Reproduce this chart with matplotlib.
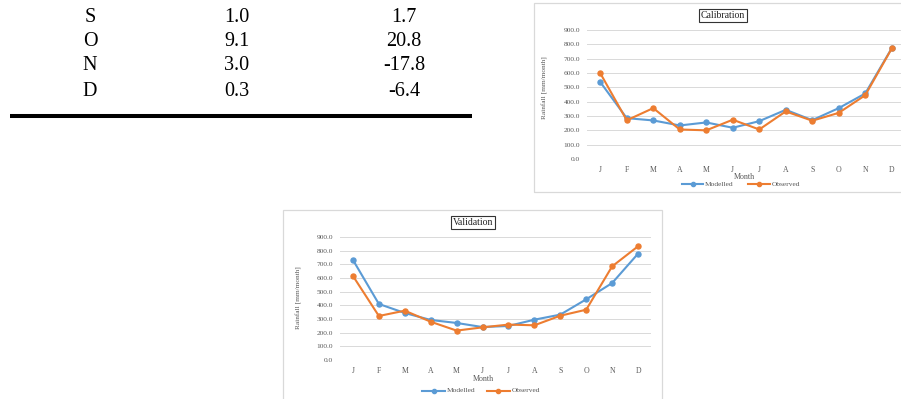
import matplotlib
matplotlib.use("Agg")
import matplotlib.pyplot as plt
from matplotlib.patches import Rectangle
from matplotlib.lines import Line2D

# Table fragment (last rows)
table_months = ["S", "O", "N", "D"]
table_col1 = ["1.0", "9.1", "3.0", "0.3"]
table_col2 = ["1.7", "20.8", "-17.8", "-6.4"]

# Monthly rainfall series
months = ["J", "F", "M", "A", "M", "J", "J", "A", "S", "O", "N", "D"]
cal_modelled = [537, 285, 269, 234, 255, 218, 264, 343, 271, 355, 457, 773]
cal_observed = [599, 270, 355, 206, 200, 274, 206, 332, 267, 322, 445, 771]
val_modelled = [732, 410, 344, 293, 271, 241, 249, 295, 332, 444, 563, 778]
val_observed = [615, 322, 361, 280, 215, 239, 259, 254, 324, 368, 685, 832]
y_ticks = [0, 100, 200, 300, 400, 500, 600, 700, 800, 900]

W, H = 901, 399
BLUE = "#5B9BD5"
ORANGE = "#ED7D31"
GRAY_TXT = "#595959"
SERIF = ["Liberation Serif", "DejaVu Serif"]

fig = plt.figure(figsize=(W / 100, H / 100), dpi=100)
fig.patch.set_facecolor("white")


def fx(x):
    return x / W


def fy(y):
    return 1 - y / H


# ---- table ----
row_y = [17, 42, 66, 91]
for ry, m, a, b in zip(row_y, table_months, table_col1, table_col2):
    fig.text(fx(90), fy(ry), m, ha="center", va="center", fontsize=14.5, family=SERIF)
    fig.text(fx(237), fy(ry), a, ha="center", va="center", fontsize=14.5, family=SERIF)
    fig.text(fx(404), fy(ry), b, ha="center", va="center", fontsize=14.5, family=SERIF)
fig.add_artist(Line2D([fx(10), fx(472)], [fy(115.5), fy(115.5)], color="black",
                      lw=2.9, solid_capstyle="butt"))


def chart(frame, plot, title, title_xy, ylab_xy, month_xy, legend_y, legend_x,
          modelled, observed):
    fl, ft, fr, fb = frame
    fig.add_artist(Rectangle((fx(fl), fy(fb)), fx(fr) - fx(fl), fy(ft) - fy(fb),
                             transform=fig.transFigure, fill=False,
                             edgecolor="#D9D9D9", lw=0.9))
    pl, pt, pr, pb = plot
    ax = fig.add_axes([fx(pl), fy(pb), fx(pr) - fx(pl), fy(pt) - fy(pb)])
    x = list(range(len(months)))
    ax.plot(x, modelled, color=BLUE, lw=1.5, marker="o", ms=3.6, zorder=3)
    ax.plot(x, observed, color=ORANGE, lw=1.5, marker="o", ms=3.6, zorder=4)
    ax.set_xlim(-0.5, len(months) - 0.5)
    ax.set_ylim(0, 900)
    ax.set_yticks(y_ticks)
    ax.set_yticklabels([f"{v:.1f}" for v in y_ticks], fontsize=5.3,
                       color=GRAY_TXT, family=SERIF)
    ax.set_xticks(x)
    ax.set_xticklabels(months, fontsize=5.6, color=GRAY_TXT, family=SERIF)
    ax.tick_params(axis="both", length=0)
    ax.tick_params(axis="y", pad=5)
    ax.tick_params(axis="x", pad=5)
    ax.grid(axis="y", color="#D9D9D9", lw=0.7)
    ax.set_axisbelow(True)
    for s in ax.spines.values():
        s.set_visible(False)
    ax.patch.set_alpha(0)

    tx, ty = title_xy
    fig.text(fx(tx), fy(ty), title, ha="center", va="center", fontsize=7,
             family=SERIF, color="#222222",
             bbox=dict(boxstyle="square,pad=0.2", fc="white", ec="#333333", lw=0.8))
    lx, ly = ylab_xy
    fig.text(fx(lx), fy(ly), "Rainfall [mm/month]", rotation=90, ha="center",
             va="center", fontsize=5.2, color=GRAY_TXT, family=SERIF)
    mx, my = month_xy
    fig.text(fx(mx), fy(my), "Month", ha="center", va="center", fontsize=5.8,
             color=GRAY_TXT, family=SERIF)
    for (x0, x1), col, lab in zip(legend_x, [BLUE, ORANGE], ["Modelled", "Observed"]):
        fig.add_artist(Line2D([fx(x0), fx(x1)], [fy(legend_y), fy(legend_y)],
                              color=col, lw=1.5))
        fig.add_artist(Line2D([fx((x0 + x1) / 2)], [fy(legend_y)], color=col,
                              marker="o", ms=3.0))
        fig.text(fx(x1 + 2), fy(legend_y), lab, ha="left", va="center",
                 fontsize=5.4, color=GRAY_TXT, family=SERIF)
    return ax


chart(frame=(534, 3, 910, 192), plot=(587, 30, 905, 159),
      title="Calibration", title_xy=(723, 15.5), ylab_xy=(545, 88),
      month_xy=(744, 177), legend_y=184.5,
      legend_x=[(682, 703), (748, 770)],
      modelled=cal_modelled, observed=cal_observed)

chart(frame=(283, 210, 662, 410), plot=(340, 237, 651, 360),
      title="Validation", title_xy=(473, 222.5), ylab_xy=(299, 298),
      month_xy=(483, 379), legend_y=390.5,
      legend_x=[(422, 445), (487, 510)],
      modelled=val_modelled, observed=val_observed)

fig.savefig("out.png", dpi=100, facecolor="white")
